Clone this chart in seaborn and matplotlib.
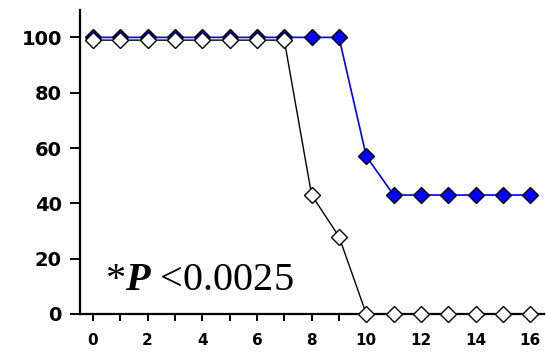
import numpy as np
import pandas as pd
import seaborn as sns
import matplotlib.pyplot as plt
from matplotlib.ticker import MultipleLocator

# survival (%) by day
days = list(range(0, 17))
treated = [100, 100, 100, 100, 100, 100, 100, 100, 100, 100, 57, 43, 43, 43, 43, 43, 43]
control = [99, 99, 99, 99, 99, 99, 99, 99, 43, 28, 0, 0, 0, 0, 0, 0, 0]
y_ticks = [0, 20, 40, 60, 80, 100]
x_ticks = [0, 2, 4, 6, 8, 10, 12, 14, 16]
annotation = "*$P$ <0.0025"

sns.set_style("white")
plt.rcParams['font.family'] = ['DejaVu Sans']
plt.rcParams['mathtext.fontset'] = 'custom'
plt.rcParams['mathtext.it'] = 'Liberation Serif:italic:bold'
plt.rcParams['mathtext.rm'] = 'Liberation Serif'

df = pd.DataFrame({"day": days, "treated": treated, "control": control})

fig = plt.figure(figsize=(5.46, 3.53), dpi=100)
ax = fig.add_axes([0.1465, 0.1105, 0.85, 0.862])

sns.lineplot(data=df, x="day", y="treated", ax=ax, color="#0000ff", lw=1.2,
             marker="D", markersize=8, markerfacecolor="#0000ff",
             markeredgecolor="black", markeredgewidth=1.0, zorder=2, clip_on=False)
sns.lineplot(data=df, x="day", y="control", ax=ax, color="black", lw=1.0,
             marker="D", markersize=8, markerfacecolor="white",
             markeredgecolor="black", markeredgewidth=1.0, zorder=3, clip_on=False)

ax.set_xlim(-0.47, 16.5)
ax.set_ylim(0, 110)
ax.set_xticks(x_ticks)
ax.xaxis.set_minor_locator(MultipleLocator(1))
ax.set_yticks(y_ticks)
ax.set_xlabel("")
ax.set_ylabel("")

for s in ["top", "right"]:
    ax.spines[s].set_visible(False)
for s in ["left", "bottom"]:
    ax.spines[s].set_color("black")
    ax.spines[s].set_linewidth(1.6)
    ax.spines[s].set_zorder(1)

ax.tick_params(axis="y", which="major", direction="out", length=7, width=1.4,
               left=True, labelsize=14, pad=6, color="black", labelcolor="black")
ax.tick_params(axis="x", which="both", direction="out", length=5, width=1.4,
               bottom=True, labelsize=11, pad=9, color="black", labelcolor="black")
for lbl in ax.get_yticklabels() + ax.get_xticklabels():
    lbl.set_fontweight("bold")

ax.text(0.45, 8.7, annotation, fontsize=29, family=["Liberation Serif"],
        color="black", ha="left", va="baseline")

fig.savefig("out.png", dpi=100)
